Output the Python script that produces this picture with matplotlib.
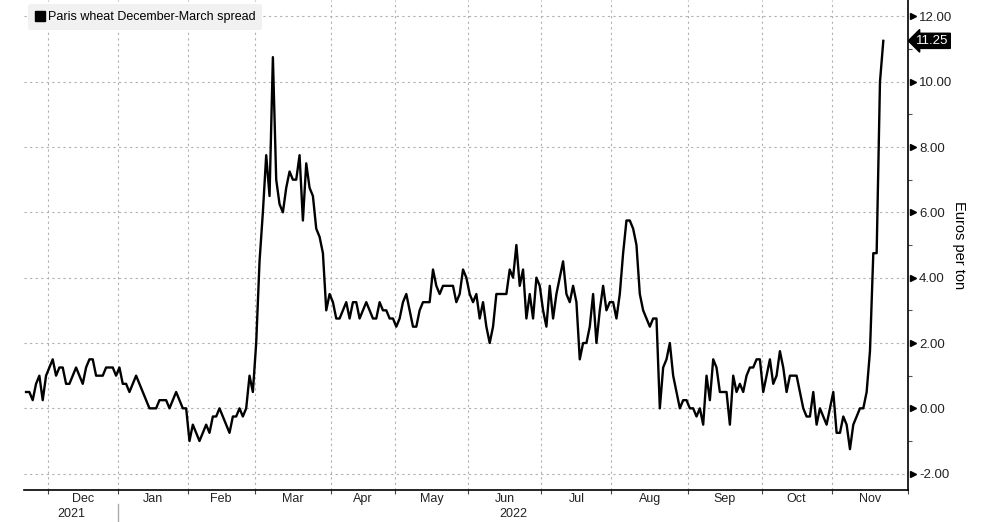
import matplotlib
matplotlib.use('Agg')
import matplotlib.pyplot as plt
import matplotlib.transforms as mtransforms
from matplotlib.lines import Line2D
import numpy as np
import pandas as pd

plt.rcParams['font.family'] = ['Liberation Sans', 'DejaVu Sans']

# trading days (Euronext closed on these)
holidays = ['2021-12-24', '2021-12-31', '2022-04-15', '2022-04-18']
dates = pd.bdate_range('2021-11-22', '2022-11-22')
dates = dates[~dates.isin(pd.to_datetime(holidays))]

# Paris wheat Dec-Mar spread, euros per ton
spread = [
    0.5, 0.5, 0.25, 0.75, 1.0, 0.25, 1.0, 1.25, 1.5, 1.0,
    1.25, 1.25, 0.75, 0.75, 1.0, 1.25, 1.0, 0.75, 1.25, 1.5,
    1.5, 1.0, 1.0, 1.0, 1.25, 1.25, 1.25, 1.0, 1.25, 0.75,
    0.75, 0.5, 0.75, 1.0, 0.75, 0.5, 0.25, 0.0, 0.0, 0.0,
    0.25, 0.25, 0.25, 0.0, 0.25, 0.5, 0.25, 0.0, 0.0, -1.0,
    -0.5, -0.75, -1.0, -0.75, -0.5, -0.75, -0.25, -0.25, 0.0, -0.25,
    -0.5, -0.75, -0.25, -0.25, 0.0, -0.25, 0.0, 1.0, 0.5, 2.0,
    4.5, 6.0, 7.75, 6.5, 10.75, 7.0, 6.25, 6.0, 6.75, 7.25,
    7.0, 7.0, 7.75, 5.75, 7.5, 6.75, 6.5, 5.5, 5.25, 4.75,
    3.0, 3.5, 3.25, 2.75, 2.75, 3.0, 3.25, 2.75, 3.25, 3.25,
    2.75, 3.0, 3.25, 3.0, 2.75, 2.75, 3.25, 3.0, 3.0, 2.75,
    2.75, 2.5, 2.75, 3.25, 3.5, 3.0, 2.5, 2.5, 3.0, 3.25,
    3.25, 3.25, 4.25, 3.75, 3.5, 3.75, 3.75, 3.75, 3.75, 3.25,
    3.5, 4.25, 4.0, 3.5, 3.25, 3.5, 2.75, 3.25, 2.5, 2.0,
    2.5, 3.5, 3.5, 3.5, 3.5, 4.25, 4.0, 5.0, 3.75, 4.25,
    2.75, 3.5, 2.75, 4.0, 3.75, 3.0, 2.5, 3.75, 2.75, 3.5,
    4.0, 4.5, 3.5, 3.25, 3.75, 3.25, 1.5, 2.0, 2.0, 2.5,
    3.5, 2.0, 3.0, 3.75, 3.0, 3.25, 3.25, 2.75, 3.5, 4.75,
    5.75, 5.75, 5.5, 5.0, 3.5, 3.0, 2.75, 2.5, 2.75, 2.75,
    0.0, 1.25, 1.5, 2.0, 1.0, 0.5, 0.0, 0.25, 0.25, 0.0,
    0.0, -0.25, 0.0, -0.5, 1.0, 0.25, 1.5, 1.25, 0.5, 0.5,
    0.5, -0.5, 1.0, 0.5, 0.75, 0.5, 1.0, 1.25, 1.25, 1.5,
    1.5, 0.5, 1.0, 1.5, 0.75, 1.0, 1.75, 1.25, 0.5, 1.0,
    1.0, 1.0, 0.5, 0.0, -0.25, -0.25, 0.5, -0.5, 0.0, -0.25,
    -0.5, 0.0, 0.5, -0.75, -0.75, -0.25, -0.5, -1.25, -0.5, -0.25,
    0.0, 0.0, 0.5, 1.75, 4.75, 4.75, 10.0, 11.25,
]
yticks = [-2, 0, 2, 4, 6, 8, 10, 12]
series_name = 'Paris wheat December-March spread'
y_title = 'Euros per ton'

x = np.arange(len(dates))
fig = plt.figure(figsize=(9.89, 5.22), dpi=100)
ax = fig.add_axes([0.0243, 0.0613, 0.8938, 0.9387])

ax.plot(x, spread, color='black', lw=1.7)

ax.set_xlim(-0.6, len(x) + 6.4)
ax.set_ylim(-2.5, 12.5)
x_right = ax.get_xlim()[1]

# month boundaries = first trading day of every month
per = dates.to_period('M')
starts = [i for i in range(1, len(dates)) if per[i] != per[i - 1]]
edges = [s - 0.5 for s in starts] + [x_right]
mids = [(edges[k] + edges[k + 1]) / 2 for k in range(len(starts))]
mlabels = [dates[i].strftime('%b') for i in starts]

ax.set_xticks(edges)
ax.set_xticklabels([])
ax.set_xticks(mids, minor=True)
ax.set_xticklabels(mlabels, minor=True, fontsize=9, color='#222222')
ax.tick_params(axis='x', which='major', length=3, width=0.8, color='#444444')
ax.tick_params(axis='x', which='minor', length=0, pad=2)

# year labels under months
trans = mtransforms.blended_transform_factory(ax.transData, ax.transAxes)
jan = [s for s in starts if dates[s].month == 1][0] - 0.5
ax.text((ax.get_xlim()[0] + jan) / 2, -0.037, '2021', transform=trans,
        ha='center', va='top', fontsize=9, color='#222222')
ax.text((jan + x_right) / 2, -0.037, '2022', transform=trans,
        ha='center', va='top', fontsize=9, color='#222222')
ax.plot([jan, jan], [-0.028, -0.065], transform=trans, color='#aaaaaa',
        lw=1, clip_on=False)

# right value axis
ax.yaxis.tick_right()
ax.yaxis.set_label_position('right')
ax.set_yticks(yticks)
ax.set_yticklabels(['%.2f' % v for v in yticks], fontsize=9.5, color='#222222')
ax.set_yticks(np.arange(-1, 12, 2), minor=True)
ax.tick_params(axis='y', which='major', length=0, pad=8)
ax.tick_params(axis='y', which='minor', length=3, width=0.8, color='#555555')
caret_tr = mtransforms.blended_transform_factory(ax.transAxes, ax.transData) + \
    mtransforms.ScaledTranslation(4.5 / 100, 0, fig.dpi_scale_trans)
ax.plot(np.ones(len(yticks)), yticks, transform=caret_tr, ls='none',
        marker='>', markersize=5, color='black', clip_on=False)
ax.set_ylabel(y_title, rotation=270, labelpad=10, fontsize=10.5)

ax.grid(True, which='major', axis='both', color='#b0b0b0', ls=(0, (2, 3)), lw=0.8)
for s in ['top', 'left']:
    ax.spines[s].set_visible(False)
ax.spines['right'].set_linewidth(1.2)
ax.spines['bottom'].set_linewidth(1.2)

# last value tag
ax.annotate('%.2f' % spread[-1], xy=(1.0, spread[-1]),
            xycoords=mtransforms.blended_transform_factory(ax.transAxes, ax.transData),
            xytext=(6, 0), textcoords='offset points', ha='left', va='center',
            fontsize=9.5, color='white',
            bbox=dict(boxstyle='larrow,pad=0.12', fc='black', ec='black'),
            annotation_clip=False)

handle = Line2D([], [], color='black', marker='s', ls='none', markersize=7)
leg = ax.legend([handle], [series_name], loc='upper left', fontsize=9,
                handlelength=0.7, handletextpad=0.3, borderpad=0.55,
                borderaxespad=0.35, frameon=True, fancybox=True)
leg.get_frame().set_facecolor('#f1f1f1')
leg.get_frame().set_edgecolor('none')
leg.get_frame().set_alpha(1)

plt.savefig('out.png', dpi=100)
